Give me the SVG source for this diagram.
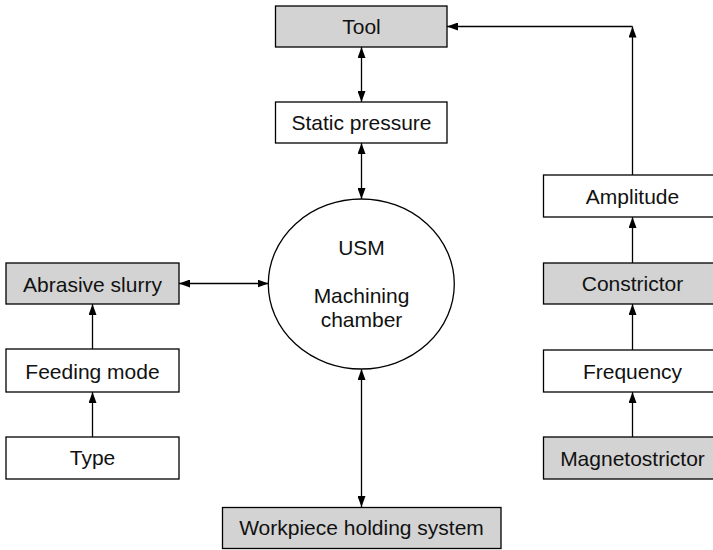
<svg xmlns="http://www.w3.org/2000/svg" width="713" height="550" viewBox="0 0 713 550">
<style>
.box{stroke:#000;stroke-width:1.3}
.w{fill:#fff}
.g{fill:#d3d3d3}
text{font-family:"Liberation Sans",Arial,sans-serif;font-size:21px;fill:#111;text-anchor:middle}
.c line{stroke:#000;stroke-width:1.3}
</style>
<defs>
<marker id="ah" markerUnits="userSpaceOnUse" markerWidth="11" markerHeight="8" refX="11" refY="4" orient="auto-start-reverse">
<path d="M0,0 L11,4 L0,8 z" fill="#000"/>
</marker>
</defs>
<rect width="713" height="550" fill="#fff"/>
<g class="c" id="connectors">
<line x1="361.5" y1="47" x2="361.5" y2="102" marker-start="url(#ah)" marker-end="url(#ah)"/>
<line x1="361.5" y1="143" x2="361.5" y2="199" marker-start="url(#ah)" marker-end="url(#ah)"/>
<line x1="361.5" y1="369" x2="361.5" y2="507" marker-start="url(#ah)" marker-end="url(#ah)"/>
<line x1="179" y1="283.5" x2="268.5" y2="283.5" marker-start="url(#ah)" marker-end="url(#ah)"/>
<line x1="92.5" y1="349" x2="92.5" y2="304" marker-end="url(#ah)"/>
<line x1="92.5" y1="437" x2="92.5" y2="392" marker-end="url(#ah)"/>
<line x1="632.5" y1="437" x2="632.5" y2="392" marker-end="url(#ah)"/>
<line x1="632.5" y1="350" x2="632.5" y2="304" marker-end="url(#ah)"/>
<line x1="632.5" y1="263" x2="632.5" y2="217" marker-end="url(#ah)"/>
<line x1="632.5" y1="175" x2="632.5" y2="26.5" marker-end="url(#ah)"/>
<line x1="632.5" y1="26.5" x2="447" y2="26.5" marker-end="url(#ah)"/>
</g>
<g id="tool"><rect class="box g" x="275.5" y="6" width="171.5" height="41"/><text x="361.5" y="34">Tool</text></g>
<g id="static"><rect class="box w" x="275.5" y="102" width="171.5" height="41"/><text x="361.5" y="130">Static pressure</text></g>
<g id="usm"><ellipse class="box w" cx="361.3" cy="284" rx="93" ry="85"/><text x="361.5" y="255">USM</text><text x="361.5" y="303">Machining</text><text x="361.5" y="326.5">chamber</text></g>
<g id="abrasive"><rect class="box g" x="6" y="263" width="173" height="41"/><text x="92.5" y="291.5">Abrasive slurry</text></g>
<g id="feeding"><rect class="box w" x="6" y="349" width="173" height="43"/><text x="92.5" y="378.5">Feeding mode</text></g>
<g id="type"><rect class="box w" x="6" y="437" width="173" height="42"/><text x="92.5" y="465">Type</text></g>
<g id="amplitude"><rect class="box w" x="543.5" y="175" width="180" height="42"/><text x="632.5" y="203.5">Amplitude</text></g>
<g id="constrictor"><rect class="box g" x="543.5" y="263" width="180" height="41"/><text x="632.5" y="291">Constrictor</text></g>
<g id="frequency"><rect class="box w" x="543.5" y="350" width="180" height="42"/><text x="632.5" y="378.5">Frequency</text></g>
<g id="magneto"><rect class="box g" x="543.5" y="437" width="180" height="42"/><text x="632.5" y="465.5">Magnetostrictor</text></g>
<g id="workpiece"><rect class="box g" x="222.5" y="507.5" width="278.5" height="41"/><text x="361.5" y="535">Workpiece holding system</text></g>
</svg>
